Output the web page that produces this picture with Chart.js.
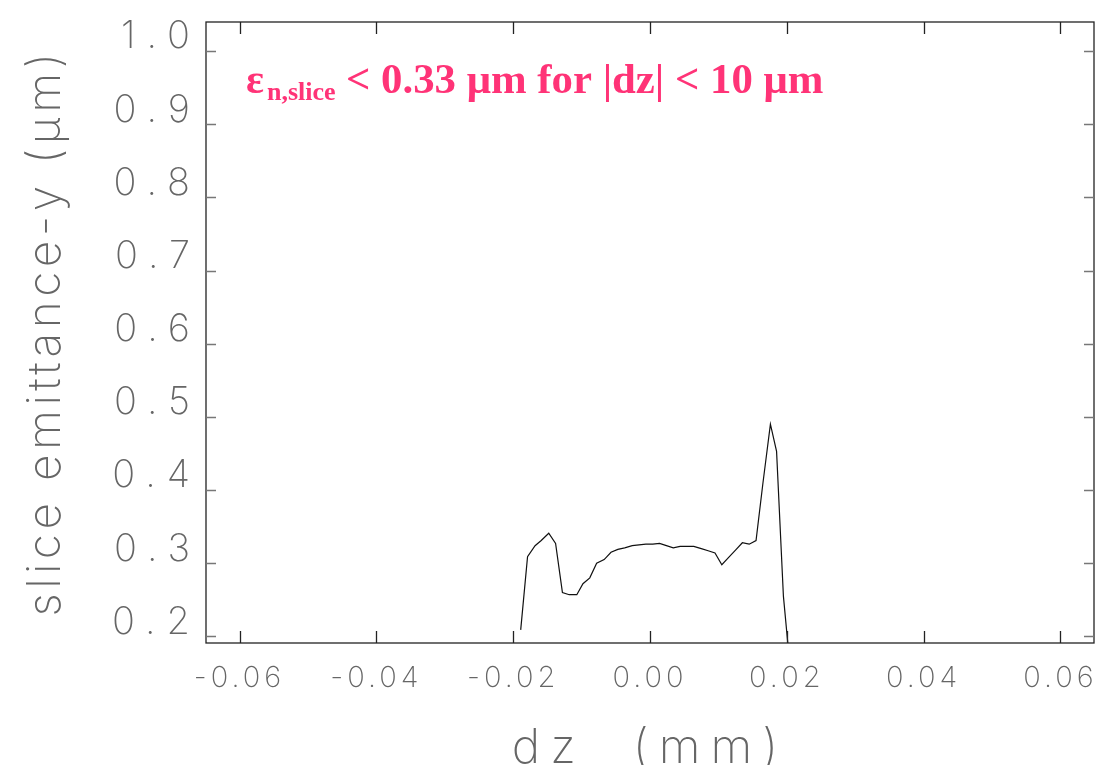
<!DOCTYPE html>
<html>
<head>
<meta charset="utf-8">
<title>slice emittance-y</title>
<script src="https://cdn.jsdelivr.net/npm/chart.js@4.4.0/dist/chart.umd.min.js"></script>
<style>
  html, body { margin: 0; padding: 0; background: #fff; overflow: hidden; }
  canvas { display: block; }
</style>
</head>
<body>
<canvas id="sliceChart" width="1101" height="765"></canvas>
<script>
// slice position dz (mm) and slice emittance (um)
const dzValues = [
  -0.0189, -0.0179, -0.0168, -0.0159, -0.0148, -0.0138, -0.0128, -0.0118, -0.0107, -0.0098,
  -0.0088, -0.0078, -0.0067, -0.0057, -0.0047, -0.0037, -0.0026, -0.0016, -0.0006, 0.0004,
  0.0014, 0.0024, 0.0034, 0.0044, 0.0054, 0.0064, 0.0075, 0.0085, 0.0095, 0.0105,
  0.0115, 0.0125, 0.0135, 0.0145, 0.0155, 0.0165, 0.0176, 0.0185, 0.0195, 0.0205
];
const emittanceY = [
  0.209, 0.309, 0.324, 0.331, 0.341, 0.327, 0.260, 0.257, 0.257, 0.272,
  0.280, 0.300, 0.305, 0.315, 0.319, 0.321, 0.324, 0.325, 0.326, 0.326,
  0.327, 0.324, 0.321, 0.323, 0.323, 0.323, 0.320, 0.317, 0.314, 0.298,
  0.308, 0.318, 0.328, 0.326, 0.331, 0.409, 0.490, 0.453, 0.255, 0.155
];
const xTicks = [-0.06, -0.04, -0.02, 0.00, 0.02, 0.04, 0.06];
const yTicks = [0.2, 0.3, 0.4, 0.5, 0.6, 0.7, 0.8, 0.9, 1.0];
const xTitle = 'dz  (mm)';
const yTitle = 'slice emittance-y (μm)';
const noteSymbol = 'ε';
const noteSub = 'n,slice';
const noteText = '< 0.33 μm for |dz| < 10 μm';

const thinFont = 'Inter';
const noteColor = '#ff3377';

// letter spacing per scale (Chart.js fonts have no such option)
const spacing = {
  x: { labels: '4px', title: '10px' },
  y: { labels: '11px', title: '4.5px' }
};

function withSpacing(fn, sp) {
  return function (...args) {
    this.ctx.save();
    this.ctx.letterSpacing = sp;
    fn.apply(this, args);
    this.ctx.restore();
  };
}

const spacingPlugin = {
  id: 'spacing',
  afterLayout(chart) {
    Object.values(chart.scales).forEach(scale => {
      if (scale._spaced || !spacing[scale.id]) return;
      scale.drawLabels = withSpacing(scale.drawLabels, spacing[scale.id].labels);
      scale.drawTitle = withSpacing(scale.drawTitle, spacing[scale.id].title);
      scale._spaced = true;
    });
  }
};

// box around the plot with inward ticks on all four sides
const framePlugin = {
  id: 'frame',
  afterDraw(chart) {
    const { ctx, chartArea: a, scales: { x, y } } = chart;
    ctx.save();
    ctx.lineWidth = 1.3;
    ctx.strokeStyle = '#222';
    ctx.strokeRect(a.left, a.top, a.right - a.left, a.bottom - a.top);
    ctx.beginPath();
    x.ticks.forEach(t => {
      const px = Math.round(x.getPixelForValue(t.value)) + 0.5;
      ctx.moveTo(px, a.bottom); ctx.lineTo(px, a.bottom - 12);
      ctx.moveTo(px, a.top); ctx.lineTo(px, a.top + 12);
    });
    ctx.stroke();
    ctx.strokeStyle = '#777';
    ctx.beginPath();
    y.ticks.forEach(t => {
      const py = Math.round(y.getPixelForValue(t.value)) + 0.5;
      ctx.moveTo(a.left, py); ctx.lineTo(a.left + 10, py);
      ctx.moveTo(a.right, py); ctx.lineTo(a.right - 10, py);
    });
    ctx.stroke();
    ctx.restore();
  }
};

// pink note in the upper left
const notePlugin = {
  id: 'note',
  afterDraw(chart) {
    const ctx = chart.ctx;
    ctx.save();
    ctx.letterSpacing = '0px';
    ctx.fillStyle = noteColor;
    ctx.textBaseline = 'alphabetic';
    ctx.textAlign = 'left';
    ctx.font = 'bold 42px "Liberation Serif"';
    ctx.fillText(noteSymbol, 246, 93);
    ctx.font = 'bold 26px "Liberation Serif"';
    ctx.fillText(noteSub, 267, 100);
    ctx.font = 'bold 40px "Liberation Serif"';
    const w = ctx.measureText(noteText).width;
    const size = 40 * 477 / w;
    ctx.font = `bold ${size.toFixed(1)}px "Liberation Serif"`;
    ctx.fillText(noteText, 346, 93);
    ctx.restore();
  }
};

const ctx = document.getElementById('sliceChart').getContext('2d');
new Chart(ctx, {
  type: 'line',
  data: {
    datasets: [{
      data: dzValues.map((dz, i) => ({ x: dz, y: emittanceY[i] })),
      borderColor: '#111',
      borderWidth: 1.2,
      pointRadius: 0,
      tension: 0,
      fill: false
    }]
  },
  options: {
    responsive: false,
    animation: false,
    events: [],
    layout: { padding: { top: 22, right: 7, bottom: 0, left: 0 } },
    plugins: {
      legend: { display: false },
      tooltip: { enabled: false }
    },
    scales: {
      x: {
        type: 'linear',
        min: -0.0649,
        max: 0.0649,
        afterBuildTicks: s => { s.ticks = xTicks.map(v => ({ value: v })); },
        afterFit: s => {
          s.height = 122;
          s.paddingLeft = 0; s.paddingRight = 0;
        },
        grid: { display: false, drawTicks: false, tickLength: 0 },
        border: { display: false },
        ticks: {
          autoSkip: false,
          maxRotation: 0,
          minRotation: 0,
          padding: 18,
          color: '#666',
          font: { family: thinFont, size: 29, weight: 200 },
          callback: v => v.toFixed(2)
        },
        title: {
          display: true,
          text: xTitle,
          color: '#666',
          font: { family: thinFont, size: 48, weight: 200, lineHeight: '28px' },
          padding: { top: 0, bottom: 2 }
        }
      },
      y: {
        type: 'linear',
        min: 0.191,
        max: 1.0396,
        afterBuildTicks: s => { s.ticks = yTicks.map(v => ({ value: v })); },
        afterFit: s => {
          s.width = 206;
          s.paddingTop = 0; s.paddingBottom = 0;
        },
        grid: { display: false, drawTicks: false, tickLength: 0 },
        border: { display: false },
        ticks: {
          autoSkip: false,
          padding: 5,
          labelOffset: -14,
          color: '#666',
          font: { family: thinFont, size: 38, weight: 200 },
          callback: v => v.toFixed(1)
        },
        title: {
          display: true,
          text: yTitle,
          color: '#666',
          font: { family: thinFont, size: 46, weight: 200, lineHeight: '30px' },
          padding: { top: 31, bottom: 0 }
        }
      }
    }
  },
  plugins: [spacingPlugin, framePlugin, notePlugin]
});
</script>
</body>
</html>
